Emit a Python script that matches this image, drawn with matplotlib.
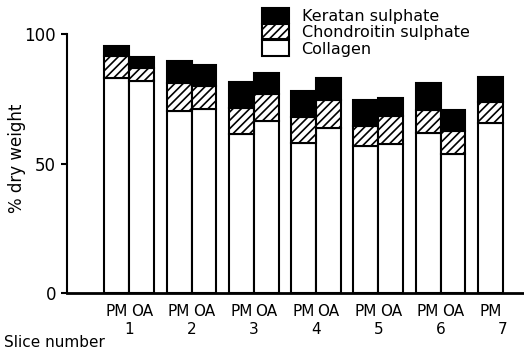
import numpy as np
import matplotlib
matplotlib.use("Agg")
from matplotlib import pyplot as plt
from matplotlib.patches import Patch

plt.rcParams['hatch.linewidth'] = 1.2

slices = [1, 2, 3, 4, 5, 6, 7]
groups = ['PM', 'OA', 'PM', 'OA', 'PM', 'OA', 'PM', 'OA', 'PM', 'OA', 'PM', 'OA', 'PM']
group_slice = [1, 1, 2, 2, 3, 3, 4, 4, 5, 5, 6, 6, 7]
# cumulative tops
collagen_top = [82.9, 82.0, 70.3, 71.2, 61.4, 66.6, 57.8, 63.9, 56.8, 57.7, 61.8, 53.5, 65.8]
chondroitin_top = [91.5, 86.8, 81.1, 79.9, 71.5, 76.9, 68.0, 74.6, 64.5, 68.4, 70.6, 62.5, 73.7]
keratan_top = [95.4, 91.3, 89.7, 88.2, 81.4, 85.0, 78.1, 83.2, 74.6, 75.4, 81.2, 70.6, 83.5]

collagen = np.array(collagen_top)
chondroitin = np.array(chondroitin_top) - collagen
keratan = np.array(keratan_top) - np.array(chondroitin_top)

width = 0.4
xpos = np.array([s + (-width / 2 if g == 'PM' else width / 2) for s, g in zip(group_slice, groups)])

fig = plt.figure(figsize=(5.24, 3.54), dpi=100)
ax = fig.add_axes([0.128, 0.172, 0.872, 0.732])

kw = dict(width=width, edgecolor='black', linewidth=1.5)
ax.bar(xpos, collagen, color='white', **kw)
ax.bar(xpos, chondroitin, bottom=collagen, color='white', hatch='////', **kw)
ax.bar(xpos, keratan, bottom=collagen + chondroitin, color='black', **kw)

ax.set_xlim(0, 7.34)
ax.set_ylim(0, 100)
for s in ['top', 'right']:
    ax.spines[s].set_visible(False)
ax.spines['left'].set_linewidth(1.5)
ax.spines['bottom'].set_linewidth(2)

ax.set_yticks([0, 50, 100])
ax.set_yticklabels(['0', '50', '100'], fontsize=12)
ax.tick_params(axis='y', direction='out', length=4, width=1.5, pad=4)

ax.set_xticks(xpos)
ax.set_xticklabels(groups, fontsize=11)
ax.set_xticks(slices, minor=True)
ax.set_xticklabels([str(s) for s in slices], minor=True, fontsize=11)
ax.tick_params(axis='x', which='major', length=0, pad=8)
ax.tick_params(axis='x', which='minor', length=0, pad=21)

ax.set_ylabel('% dry weight', fontsize=12)
ax.yaxis.set_label_coords(-0.09, 0.52)
fig.text(0.008, 0.012, 'Slice number', fontsize=11, ha='left', va='bottom')

handles = [Patch(facecolor='black', edgecolor='black', linewidth=1.5),
           Patch(facecolor='white', edgecolor='black', hatch='////', linewidth=1.5),
           Patch(facecolor='white', edgecolor='black', linewidth=1.5)]
fig.legend(handles, ['Keratan sulphate', 'Chondroitin sulphate', 'Collagen'],
           loc='upper left', bbox_to_anchor=(0.478, 1.01), frameon=False,
           fontsize=11.5, handlelength=1.7, handleheight=1.1, labelspacing=0.02,
           handletextpad=0.8, borderpad=0.2)

fig.savefig('out.png', dpi=100)
